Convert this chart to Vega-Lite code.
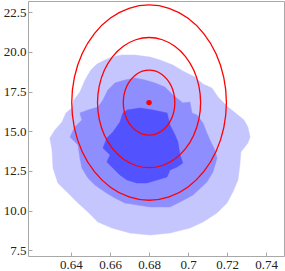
{
  "$schema": "https://vega.github.io/schema/vega-lite/v6.json",
  "width": 256,
  "height": 255,
  "autosize": "none",
  "padding": {"left": 28, "top": 1, "right": 1, "bottom": 15},
  "datasets": {
    "light": [
      {"i":1,"x":0.6661,"y":19.80},{"i":2,"x":0.6728,"y":19.80},{"i":3,"x":0.6805,"y":19.67},{"i":4,"x":0.6856,"y":19.48},
      {"i":5,"x":0.6922,"y":19.17},{"i":6,"x":0.6973,"y":18.79},{"i":7,"x":0.7035,"y":18.41},{"i":8,"x":0.7076,"y":17.97},
      {"i":9,"x":0.7122,"y":17.72},{"i":10,"x":0.7153,"y":17.15},{"i":11,"x":0.7204,"y":16.52},{"i":12,"x":0.7255,"y":16.02},
      {"i":13,"x":0.7286,"y":15.71},{"i":14,"x":0.7306,"y":15.26},{"i":15,"x":0.7317,"y":14.63},{"i":16,"x":0.7306,"y":14.26},
      {"i":17,"x":0.7270,"y":13.69},{"i":18,"x":0.7265,"y":12.87},{"i":19,"x":0.7255,"y":11.93},{"i":20,"x":0.7229,"y":11.17},
      {"i":21,"x":0.7199,"y":10.48},{"i":22,"x":0.7148,"y":9.85},{"i":23,"x":0.7076,"y":9.28},{"i":24,"x":0.7009,"y":8.90},
      {"i":25,"x":0.6907,"y":8.59},{"i":26,"x":0.6805,"y":8.46},{"i":27,"x":0.6702,"y":8.59},{"i":28,"x":0.6610,"y":8.90},
      {"i":29,"x":0.6538,"y":9.28},{"i":30,"x":0.6487,"y":9.91},{"i":31,"x":0.6436,"y":10.48},{"i":32,"x":0.6385,"y":11.11},
      {"i":33,"x":0.6333,"y":11.74},{"i":34,"x":0.6308,"y":12.68},{"i":35,"x":0.6303,"y":13.82},{"i":36,"x":0.6292,"y":14.57},
      {"i":37,"x":0.6318,"y":15.08},{"i":38,"x":0.6354,"y":15.58},{"i":39,"x":0.6374,"y":16.15},{"i":40,"x":0.6405,"y":16.46},
      {"i":41,"x":0.6415,"y":16.96},{"i":42,"x":0.6446,"y":17.47},{"i":43,"x":0.6472,"y":18.22},{"i":44,"x":0.6502,"y":18.85},
      {"i":45,"x":0.6533,"y":19.23},{"i":46,"x":0.6574,"y":19.48},{"i":47,"x":0.6610,"y":19.67}
    ],
    "medium": [
      {"i":1,"x":0.6625,"y":18.04},{"i":2,"x":0.6676,"y":18.22},{"i":3,"x":0.6728,"y":18.35},{"i":4,"x":0.6779,"y":18.22},
      {"i":5,"x":0.6830,"y":18.04},{"i":6,"x":0.6881,"y":17.78},{"i":7,"x":0.6922,"y":17.28},{"i":8,"x":0.6973,"y":16.78},
      {"i":9,"x":0.7009,"y":16.84},{"i":10,"x":0.7020,"y":16.15},{"i":11,"x":0.7045,"y":16.02},{"i":12,"x":0.7076,"y":15.52},
      {"i":13,"x":0.7096,"y":14.89},{"i":14,"x":0.7112,"y":14.45},{"i":15,"x":0.7137,"y":13.82},{"i":16,"x":0.7148,"y":13.31},
      {"i":17,"x":0.7127,"y":12.43},{"i":18,"x":0.7096,"y":11.80},{"i":19,"x":0.7025,"y":10.98},{"i":20,"x":0.6958,"y":10.54},
      {"i":21,"x":0.6907,"y":10.23},{"i":22,"x":0.6805,"y":10.23},{"i":23,"x":0.6743,"y":10.35},{"i":24,"x":0.6676,"y":10.48},
      {"i":25,"x":0.6625,"y":10.79},{"i":26,"x":0.6574,"y":11.17},{"i":27,"x":0.6523,"y":11.61},{"i":28,"x":0.6487,"y":12.05},
      {"i":29,"x":0.6456,"y":12.68},{"i":30,"x":0.6446,"y":13.31},{"i":31,"x":0.6436,"y":14.13},{"i":32,"x":0.6395,"y":14.63},
      {"i":33,"x":0.6420,"y":15.26},{"i":34,"x":0.6456,"y":15.71},{"i":35,"x":0.6446,"y":16.15},{"i":36,"x":0.6487,"y":16.33},
      {"i":37,"x":0.6538,"y":16.52},{"i":38,"x":0.6564,"y":16.96},{"i":39,"x":0.6589,"y":17.59}
    ],
    "dark": [
      {"i":1,"x":0.6687,"y":16.33},{"i":2,"x":0.6753,"y":16.46},{"i":3,"x":0.6820,"y":16.33},{"i":4,"x":0.6892,"y":16.15},
      {"i":5,"x":0.6907,"y":15.39},{"i":6,"x":0.6933,"y":14.76},{"i":7,"x":0.6948,"y":14.32},{"i":8,"x":0.6958,"y":13.50},
      {"i":9,"x":0.6973,"y":13.00},{"i":10,"x":0.6943,"y":12.74},{"i":11,"x":0.6907,"y":12.56},{"i":12,"x":0.6892,"y":12.12},
      {"i":13,"x":0.6840,"y":11.93},{"i":14,"x":0.6789,"y":11.74},{"i":15,"x":0.6738,"y":11.74},{"i":16,"x":0.6687,"y":11.93},
      {"i":17,"x":0.6651,"y":12.24},{"i":18,"x":0.6615,"y":12.68},{"i":19,"x":0.6584,"y":13.06},{"i":20,"x":0.6600,"y":13.50},
      {"i":21,"x":0.6564,"y":13.94},{"i":22,"x":0.6584,"y":14.57},{"i":23,"x":0.6615,"y":14.95},{"i":24,"x":0.6651,"y":15.58},
      {"i":25,"x":0.6666,"y":16.15}
    ],
    "ellipses": [
      {"k":1,"i":0,"x":0.6932,"y":16.8},{"k":1,"i":1,"x":0.69275,"y":17.331},{"k":1,"i":2,"x":0.69143,"y":17.825},{"k":1,"i":3,"x":0.68933,"y":18.25},
      {"k":1,"i":4,"x":0.6866,"y":18.575},{"k":1,"i":5,"x":0.68342,"y":18.78},{"k":1,"i":6,"x":0.68,"y":18.85},{"k":1,"i":7,"x":0.67658,"y":18.78},
      {"k":1,"i":8,"x":0.6734,"y":18.575},{"k":1,"i":9,"x":0.67067,"y":18.25},{"k":1,"i":10,"x":0.66857,"y":17.825},{"k":1,"i":11,"x":0.66725,"y":17.331},
      {"k":1,"i":12,"x":0.6668,"y":16.8},{"k":1,"i":13,"x":0.66725,"y":16.269},{"k":1,"i":14,"x":0.66857,"y":15.775},{"k":1,"i":15,"x":0.67067,"y":15.35},
      {"k":1,"i":16,"x":0.6734,"y":15.025},{"k":1,"i":17,"x":0.67658,"y":14.82},{"k":1,"i":18,"x":0.68,"y":14.75},{"k":1,"i":19,"x":0.68342,"y":14.82},
      {"k":1,"i":20,"x":0.6866,"y":15.025},{"k":1,"i":21,"x":0.68933,"y":15.35},{"k":1,"i":22,"x":0.69143,"y":15.775},{"k":1,"i":23,"x":0.69275,"y":16.269},
      {"k":2,"i":0,"x":0.7064,"y":16.8},{"k":2,"i":1,"x":0.7055,"y":17.861},{"k":2,"i":2,"x":0.70286,"y":18.85},{"k":2,"i":3,"x":0.69867,"y":19.699},
      {"k":2,"i":4,"x":0.6932,"y":20.351},{"k":2,"i":5,"x":0.68683,"y":20.76},{"k":2,"i":6,"x":0.68,"y":20.9},{"k":2,"i":7,"x":0.67317,"y":20.76},
      {"k":2,"i":8,"x":0.6668,"y":20.351},{"k":2,"i":9,"x":0.66133,"y":19.699},{"k":2,"i":10,"x":0.65714,"y":18.85},{"k":2,"i":11,"x":0.6545,"y":17.861},
      {"k":2,"i":12,"x":0.6536,"y":16.8},{"k":2,"i":13,"x":0.6545,"y":15.739},{"k":2,"i":14,"x":0.65714,"y":14.75},{"k":2,"i":15,"x":0.66133,"y":13.901},
      {"k":2,"i":16,"x":0.6668,"y":13.249},{"k":2,"i":17,"x":0.67317,"y":12.84},{"k":2,"i":18,"x":0.68,"y":12.7},{"k":2,"i":19,"x":0.68683,"y":12.84},
      {"k":2,"i":20,"x":0.6932,"y":13.249},{"k":2,"i":21,"x":0.69867,"y":13.901},{"k":2,"i":22,"x":0.70286,"y":14.75},{"k":2,"i":23,"x":0.7055,"y":15.739},
      {"k":3,"i":0,"x":0.7196,"y":16.8},{"k":3,"i":1,"x":0.71825,"y":18.392},{"k":3,"i":2,"x":0.71429,"y":19.875},{"k":3,"i":3,"x":0.708,"y":21.149},
      {"k":3,"i":4,"x":0.6998,"y":22.126},{"k":3,"i":5,"x":0.69025,"y":22.74},{"k":3,"i":6,"x":0.68,"y":22.95},{"k":3,"i":7,"x":0.66975,"y":22.74},
      {"k":3,"i":8,"x":0.6602,"y":22.126},{"k":3,"i":9,"x":0.652,"y":21.149},{"k":3,"i":10,"x":0.64571,"y":19.875},{"k":3,"i":11,"x":0.64175,"y":18.392},
      {"k":3,"i":12,"x":0.6404,"y":16.8},{"k":3,"i":13,"x":0.64175,"y":15.208},{"k":3,"i":14,"x":0.64571,"y":13.725},{"k":3,"i":15,"x":0.652,"y":12.451},
      {"k":3,"i":16,"x":0.6602,"y":11.474},{"k":3,"i":17,"x":0.66975,"y":10.86},{"k":3,"i":18,"x":0.68,"y":10.65},{"k":3,"i":19,"x":0.69025,"y":10.86},
      {"k":3,"i":20,"x":0.6998,"y":11.474},{"k":3,"i":21,"x":0.708,"y":12.451},{"k":3,"i":22,"x":0.71429,"y":13.725},{"k":3,"i":23,"x":0.71825,"y":15.208}
    ],
    "center": [{"x":0.68,"y":16.8}]
  },
  "encoding": {
    "x": {"field": "x", "type": "quantitative",
      "scale": {"domain": [0.618, 0.7491], "nice": false, "zero": false},
      "axis": {"title": null, "values": [0.64, 0.66, 0.68, 0.7, 0.72, 0.74], "format": ".2~f"}},
    "y": {"field": "y", "type": "quantitative",
      "scale": {"domain": [7.14, 23.2], "nice": false, "zero": false},
      "axis": {"title": null, "values": [7.5, 10, 12.5, 15, 17.5, 20, 22.5], "format": ".1f"}}
  },
  "layer": [
    {"data": {"name": "light"}, "mark": {"type": "line", "interpolate": "linear-closed", "fill": "#c6c6ff", "stroke": "#c6c6ff", "strokeWidth": 0.5, "clip": true},
     "encoding": {"order": {"field": "i", "type": "quantitative"}}},
    {"data": {"name": "medium"}, "mark": {"type": "line", "interpolate": "linear-closed", "fill": "#8e8eff", "stroke": "#8e8eff", "strokeWidth": 0.5, "clip": true},
     "encoding": {"order": {"field": "i", "type": "quantitative"}}},
    {"data": {"name": "dark"}, "mark": {"type": "line", "interpolate": "linear-closed", "fill": "#5252ff", "stroke": "#5252ff", "strokeWidth": 0.5, "clip": true},
     "encoding": {"order": {"field": "i", "type": "quantitative"}}},
    {"data": {"name": "ellipses"}, "mark": {"type": "line", "interpolate": "cardinal-closed", "stroke": "#ff0000", "strokeWidth": 1.3, "clip": true},
     "encoding": {"detail": {"field": "k", "type": "nominal"}, "order": {"field": "i", "type": "quantitative"}}},
    {"data": {"name": "center"}, "mark": {"type": "circle", "color": "#ff0000", "opacity": 1, "size": 30}}
  ],
  "config": {
    "view": {"stroke": "#a8a8a8", "strokeWidth": 1},
    "axis": {
      "domain": false, "grid": false,
      "tickColor": "#a8a8a8", "tickSize": -4, "tickWidth": 1,
      "labelFont": "Liberation Serif", "labelFontSize": 13, "labelColor": "#222222",
      "labelPadding": 6
    }
  }
}
